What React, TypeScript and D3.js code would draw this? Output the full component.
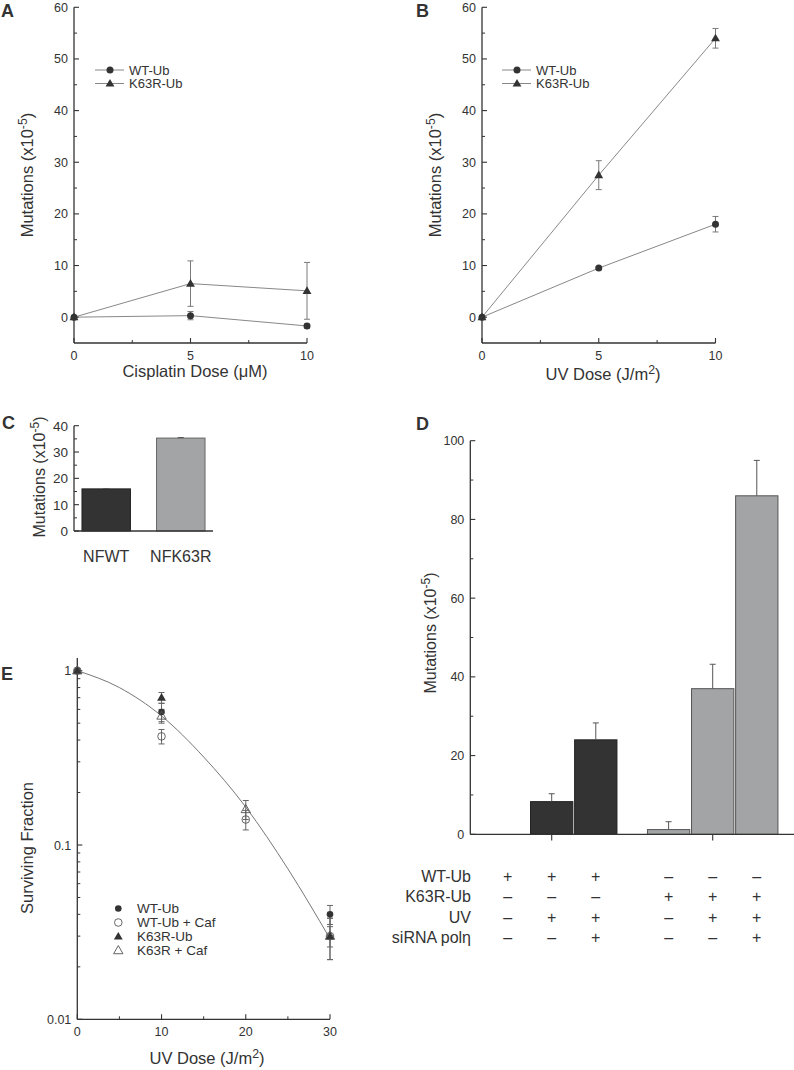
import React from "react";
import * as d3 from "d3";

const FONT = "'Liberation Sans', Arial, Helvetica, sans-serif";
const INK = "#333";
const LINE = "#7a7a7a";

// ---------- Panel A (cisplatin) ----------
const cisDose = [0, 5, 10];
const cisWT = [0, 0.3, -1.7];
const cisWTErr = [0, 0.8, 0.4];
const cisK63R = [0, 6.5, 5.1];
const cisK63RErr = [0, 4.4, 5.5];
// ---------- Panel B (UV) ----------
const uvDose = [0, 5, 10];
const uvWT = [0, 9.5, 18];
const uvWTErr = [0, 0.3, 1.5];
const uvK63R = [0, 27.5, 54];
const uvK63RErr = [0, 2.8, 1.9];
const mutTicks = [0, 10, 20, 30, 40, 50, 60];
const mutMinor = [5, 15, 25, 35, 45, 55];
const doseTicks = [0, 5, 10];
const doseMinor = [2.5, 7.5];
const legendAB = ["WT-Ub", "K63R-Ub"];

// ---------- Panel C ----------
const cCats = ["NFWT", "NFK63R"];
const cVals = [16, 35.3];
const cErr = [0.15, 0.2];
const cTicks = [0, 10, 20, 30, 40];
const cMinor = [5, 15, 25, 35];

// ---------- Panel D ----------
const dGroups = ["WT-Ub", "K63R-Ub"];
const dConds = ["none", "UV", "UV+siRNA"];
const dVals = [
  [0, 8.3, 24],
  [1.2, 37, 86],
];
const dErr = [
  [0, 2, 4.3],
  [2, 6.2, 9],
];
const dTicks = [0, 20, 40, 60, 80, 100];
const dMinor = [10, 30, 50, 70, 90];
const tableLabels = ["WT-Ub", "K63R-Ub", "UV", "siRNA polη"];
const tableSigns = [
  ["+", "+", "+", "–", "–", "–"],
  ["–", "–", "–", "+", "+", "+"],
  ["–", "+", "+", "–", "+", "+"],
  ["–", "–", "+", "–", "–", "+"],
];

// ---------- Panel E ----------
const eTicksX = [0, 10, 20, 30];
const eMinorX = [5, 15, 25];
const eTicksY = [0.01, 0.1, 1];
const eTickLabelsY = ["0.01", "0.1", "1"];
const eWTDose = [0, 10, 30];
const eWT = [1, 0.58, 0.04];
const eWTErr = [0, 0.07, 0.005];
const eWTCafDose = [0, 10, 20, 30];
const eWTCaf = [1, 0.42, 0.14, 0.03];
const eWTCafErr = [0, 0.04, 0.018, 0.008];
const eK63RDose = [0, 10, 30];
const eK63R = [1, 0.7, 0.03];
const eK63RErr = [0, 0.05, 0.004];
const eK63RCafDose = [0, 10, 20, 30];
const eK63RCaf = [1, 0.55, 0.16, 0.03];
const eK63RCafErr = [0, 0.05, 0.02, 0.008];
const eFitDose = [0, 5, 10, 15, 20, 25, 30];
const eFit = [1, 0.8, 0.55, 0.32, 0.165, 0.073, 0.029];
const eLegend = ["WT-Ub", "WT-Ub + Caf", "K63R-Ub", "K63R + Caf"];

function YAxis({ scale, x, ticks, minor, y0, y1, fs, labels, minorLen = 3 }: any) {
  return (
    <g>
      <line x1={x} x2={x} y1={y0} y2={y1} stroke={INK} strokeWidth={1.3} />
      {ticks.map((t: number, i: number) => (
        <g key={"t" + i}>
          <line x1={x} x2={x + 5} y1={scale(t)} y2={scale(t)} stroke={INK} strokeWidth={1.1} />
          <text x={x - 6} y={scale(t)} dy="0.36em" textAnchor="end" fontSize={fs} fill={INK} fontFamily={FONT}>
            {labels ? labels[i] : t}
          </text>
        </g>
      ))}
      {minor.map((t: number, i: number) => (
        <line key={"m" + i} x1={x} x2={x + minorLen} y1={scale(t)} y2={scale(t)} stroke={INK} strokeWidth={1} />
      ))}
    </g>
  );
}

function XAxis({ scale, y, ticks, minor, x0, x1, fs }: any) {
  return (
    <g>
      <line x1={x0} x2={x1} y1={y} y2={y} stroke={INK} strokeWidth={1.3} />
      {ticks.map((t: number, i: number) => (
        <g key={"t" + i}>
          <line x1={scale(t)} x2={scale(t)} y1={y} y2={y - 5} stroke={INK} strokeWidth={1.1} />
          <text x={scale(t)} y={y + 17} textAnchor="middle" fontSize={fs} fill={INK} fontFamily={FONT}>
            {t}
          </text>
        </g>
      ))}
      {minor.map((t: number, i: number) => (
        <line key={"m" + i} x1={scale(t)} x2={scale(t)} y1={y} y2={y - 3} stroke={INK} strokeWidth={1} />
      ))}
    </g>
  );
}

function MutTitle({ x, y, fs }: any) {
  return (
    <text transform={`translate(${x},${y}) rotate(-90)`} textAnchor="middle" fontSize={fs} fill={INK} fontFamily={FONT}>
      <tspan>Mutations (x10</tspan>
      <tspan dy={-6} fontSize={fs * 0.75}>-5</tspan>
      <tspan dy={6}>)</tspan>
    </text>
  );
}

function UVTitle({ x, y, fs }: any) {
  return (
    <text x={x} y={y} textAnchor="middle" fontSize={fs} fill={INK} fontFamily={FONT}>
      <tspan>UV Dose (J/m</tspan>
      <tspan dy={-6} fontSize={fs * 0.75}>2</tspan>
      <tspan dy={6}>)</tspan>
    </text>
  );
}

const tri = (size: number) => d3.symbol(d3.symbolTriangle, size)() as string;

function ErrBar({ x, yTop, yBot, cap = 3, color = LINE }: any) {
  return (
    <g stroke={color} strokeWidth={1}>
      <line x1={x} x2={x} y1={yTop} y2={yBot} />
      <line x1={x - cap} x2={x + cap} y1={yTop} y2={yTop} />
      <line x1={x - cap} x2={x + cap} y1={yBot} y2={yBot} />
    </g>
  );
}

function LinePanel({ x0, x1, dose, wt, wtErr, k, kErr, legendX, title }: any) {
  const xs = d3.scaleLinear().domain([0, 10]).range([x0, x1]);
  const ys = d3.scaleLinear().domain([-5, 60]).range([343, 7.3]);
  const line = d3
    .line<number>()
    .x((_, i) => xs(dose[i]))
    .y((d) => ys(d));
  return (
    <g>
      <YAxis scale={ys} x={x0} ticks={mutTicks} minor={mutMinor} y0={7.3} y1={343} fs={12.5} />
      <XAxis scale={xs} y={343} ticks={doseTicks} minor={doseMinor} x0={x0} x1={x1} fs={12.5} />
      <path d={line(wt) as string} fill="none" stroke={LINE} strokeWidth={0.9} />
      <path d={line(k) as string} fill="none" stroke={LINE} strokeWidth={0.9} />
      {wt.map((v: number, i: number) =>
        wtErr[i] > 0 ? (
          <ErrBar key={"we" + i} x={xs(dose[i])} yTop={ys(v + wtErr[i])} yBot={ys(v - wtErr[i])} />
        ) : null
      )}
      {k.map((v: number, i: number) =>
        kErr[i] > 0 ? (
          <ErrBar key={"ke" + i} x={xs(dose[i])} yTop={ys(v + kErr[i])} yBot={ys(v - kErr[i])} />
        ) : null
      )}
      {wt.map((v: number, i: number) => (
        <circle key={"w" + i} cx={xs(dose[i])} cy={ys(v)} r={3.5} fill={INK} />
      ))}
      {k.map((v: number, i: number) => (
        <path key={"k" + i} d={tri(34)} transform={`translate(${xs(dose[i])},${ys(v) + 0.5})`} fill={INK} />
      ))}
      {legendAB.map((lab, i) => {
        const ly = 70 + i * 13.5;
        return (
          <g key={lab}>
            <line x1={legendX} x2={legendX + 29} y1={ly} y2={ly} stroke={LINE} strokeWidth={0.9} />
            {i === 0 ? (
              <circle cx={legendX + 15} cy={ly} r={3.5} fill={INK} />
            ) : (
              <path d={tri(34)} transform={`translate(${legendX + 15},${ly + 0.5})`} fill={INK} />
            )}
            <text x={legendX + 34} y={ly} dy="0.36em" fontSize={13} fill={INK} fontFamily={FONT}>
              {lab}
            </text>
          </g>
        );
      })}
      <MutTitle x={x0 - 41} y={175} fs={16.5} />
      {title}
    </g>
  );
}

function PanelC() {
  const ys = d3.scaleLinear().domain([0, 40]).range([531, 425.7]);
  const xs = d3.scaleBand().domain(cCats).range([74, 213]).paddingInner(0.35).paddingOuter(0.107);
  const fills = ["#333333", "#a3a4a6"];
  const strokes = ["#222", "#666"];
  return (
    <g>
      {cCats.map((c, i) => {
        const cx = (xs(c) as number) + xs.bandwidth() / 2;
        return (
          <g key={c}>
            <rect x={xs(c)} y={ys(cVals[i])} width={xs.bandwidth()} height={ys(0) - ys(cVals[i])} fill={fills[i]} stroke={strokes[i]} strokeWidth={1} />
            <line x1={cx} x2={cx} y1={ys(cVals[i])} y2={ys(cVals[i] + cErr[i])} stroke="#555" />
            <line x1={cx - 3} x2={cx + 3} y1={ys(cVals[i] + cErr[i])} y2={ys(cVals[i] + cErr[i])} stroke="#555" />
            <text x={cx} y={562} textAnchor="middle" fontSize={16} fill={INK} fontFamily={FONT}>
              {c}
            </text>
          </g>
        );
      })}
      <YAxis scale={ys} x={74} ticks={cTicks} minor={cMinor} y0={425.7} y1={531} fs={13.5} />
      <line x1={74} x2={213} y1={531} y2={531} stroke={INK} strokeWidth={1.3} />
      <MutTitle x={45} y={477} fs={16} />
    </g>
  );
}

function PanelD() {
  const ys = d3.scaleLinear().domain([0, 100]).range([834.3, 440.7]);
  const gx = d3.scalePoint<string>().domain(dGroups).range([551.7, 712.7]);
  const ix = d3.scaleBand<string>().domain(dConds).range([-65.25, 65.25]).paddingInner(0.04);
  const fills = ["#333333", "#a3a4a6"];
  const strokes = ["#222", "#555"];
  const cols: number[] = [];
  dGroups.forEach((g) => dConds.forEach((c) => cols.push((gx(g) as number) + (ix(c) as number) + ix.bandwidth() / 2)));
  return (
    <g>
      {dGroups.map((g, gi) =>
        dConds.map((c, ci) => {
          const v = dVals[gi][ci];
          const bx = (gx(g) as number) + (ix(c) as number);
          const cx = bx + ix.bandwidth() / 2;
          const e = dErr[gi][ci];
          return (
            <g key={g + c}>
              {v > 0 ? (
                <rect x={bx} y={ys(v)} width={ix.bandwidth()} height={ys(0) - ys(v)} fill={fills[gi]} stroke={strokes[gi]} strokeWidth={1} />
              ) : null}
              {e > 0 ? (
                <g stroke="#555" strokeWidth={1}>
                  <line x1={cx} x2={cx} y1={ys(v)} y2={ys(v + e)} />
                  <line x1={cx - 3} x2={cx + 3} y1={ys(v + e)} y2={ys(v + e)} />
                </g>
              ) : null}
            </g>
          );
        })
      )}
      <YAxis scale={ys} x={470.3} ticks={dTicks} minor={dMinor} y0={440.7} y1={834.3} fs={12.5} />
      <line x1={470.3} x2={794} y1={834.3} y2={834.3} stroke={INK} strokeWidth={1.3} />
      {dGroups.map((g) => (
        <line key={g} x1={gx(g)} x2={gx(g)} y1={834.3} y2={840.5} stroke={INK} strokeWidth={1.1} />
      ))}
      <MutTitle x={436} y={633} fs={16} />
      {tableLabels.map((lab, ri) => {
        const ty = 876 + ri * 20.5;
        return (
          <g key={lab}>
            <text x={471} y={ty} dy="0.36em" textAnchor="end" fontSize={16} fill={INK} fontFamily={FONT}>
              {lab}
            </text>
            {tableSigns[ri].map((s, ci) => (
              <text key={ci} x={cols[ci]} y={ty} dy="0.36em" textAnchor="middle" fontSize={16} fill={INK} fontFamily={FONT}>
                {s}
              </text>
            ))}
          </g>
        );
      })}
    </g>
  );
}

function PanelE() {
  const xs = d3.scaleLinear().domain([0, 30]).range([77.3, 330]);
  const ys = d3.scaleLog().domain([0.01, 1]).range([1019.3, 670.7]);
  const minorY: number[] = [];
  [0.01, 0.1].forEach((dec) => {
    for (let k = 2; k <= 9; k++) minorY.push(dec * k);
  });
  const fit = d3
    .line<number>()
    .x((_, i) => xs(eFitDose[i]))
    .y((d) => ys(d))
    .curve(d3.curveMonotoneX);
  const series = [
    { dose: eWTDose, v: eWT, err: eWTErr, kind: "fc" },
    { dose: eWTCafDose, v: eWTCaf, err: eWTCafErr, kind: "oc" },
    { dose: eK63RDose, v: eK63R, err: eK63RErr, kind: "ft" },
    { dose: eK63RCafDose, v: eK63RCaf, err: eK63RCafErr, kind: "ot" },
  ];
  const marker = (kind: string, x: number, y: number, key: string) => {
    if (kind === "fc") return <circle key={key} cx={x} cy={y} r={3.3} fill={INK} />;
    if (kind === "oc") return <circle key={key} cx={x} cy={y} r={3.8} fill="none" stroke="#555" strokeWidth={0.9} />;
    if (kind === "ft") return <path key={key} d={tri(34)} transform={`translate(${x},${y + 0.5})`} fill={INK} />;
    return <path key={key} d={tri(38)} transform={`translate(${x},${y + 0.5})`} fill="none" stroke="#555" strokeWidth={0.9} />;
  };
  return (
    <g>
      <YAxis scale={ys} x={77.3} ticks={eTicksY} labels={eTickLabelsY} minor={minorY} y0={658} y1={1019.3} fs={12.5} />
      <XAxis scale={xs} y={1019.3} ticks={eTicksX} minor={eMinorX} x0={77.3} x1={330} fs={12.5} />
      <path d={fit(eFit) as string} fill="none" stroke="#666" strokeWidth={0.9} />
      {series.map((s, si) =>
        s.v.map((v, i) =>
          s.err[i] > 0 ? (
            <ErrBar key={`e${si}-${i}`} x={xs(s.dose[i])} yTop={ys(v + s.err[i])} yBot={ys(v - s.err[i])} cap={3} color="#666" />
          ) : null
        )
      )}
      {series.map((s, si) => s.v.map((v, i) => marker(s.kind, xs(s.dose[i]), ys(v), `m${si}-${i}`)))}
      {eLegend.map((lab, i) => {
        const ly = 908.5 + i * 14;
        return (
          <g key={lab}>
            {marker(series[i].kind, 118.3, ly, "lg" + i)}
            <text x={137} y={ly} dy="0.36em" fontSize={13.5} fill={INK} fontFamily={FONT}>
              {lab}
            </text>
          </g>
        );
      })}
      <text transform={`translate(33,848) rotate(-90)`} textAnchor="middle" fontSize={16.5} fill={INK} fontFamily={FONT}>
        Surviving Fraction
      </text>
      <UVTitle x={207} y={1064} fs={16.5} />
    </g>
  );
}

function PanelLabel({ x, y, t }: any) {
  return (
    <text x={x} y={y} fontSize={18} fontWeight="bold" fill={INK} fontFamily={FONT}>
      {t}
    </text>
  );
}

export default function App() {
  return (
    <svg width={794} height={1070} style={{ position: "absolute", left: 0, top: 0, background: "#fff" }}>
      <rect x={0} y={0} width={794} height={1070} fill="#fff" />
      <LinePanel
        x0={74}
        x1={307}
        dose={cisDose}
        wt={cisWT}
        wtErr={cisWTErr}
        k={cisK63R}
        kErr={cisK63RErr}
        legendX={95}
        title={
          <text x={195} y={377} textAnchor="middle" fontSize={16.5} fill={INK} fontFamily={FONT}>
            Cisplatin Dose (μM)
          </text>
        }
      />
      <LinePanel
        x0={482}
        x1={715.5}
        dose={uvDose}
        wt={uvWT}
        wtErr={uvWTErr}
        k={uvK63R}
        kErr={uvK63RErr}
        legendX={502}
        title={<UVTitle x={603} y={380} fs={16.5} />}
      />
      <PanelC />
      <PanelD />
      <PanelE />
      <PanelLabel x={1} y={17} t="A" />
      <PanelLabel x={416} y={17} t="B" />
      <PanelLabel x={2} y={429} t="C" />
      <PanelLabel x={416} y={430} t="D" />
      <PanelLabel x={1} y={680} t="E" />
    </svg>
  );
}
